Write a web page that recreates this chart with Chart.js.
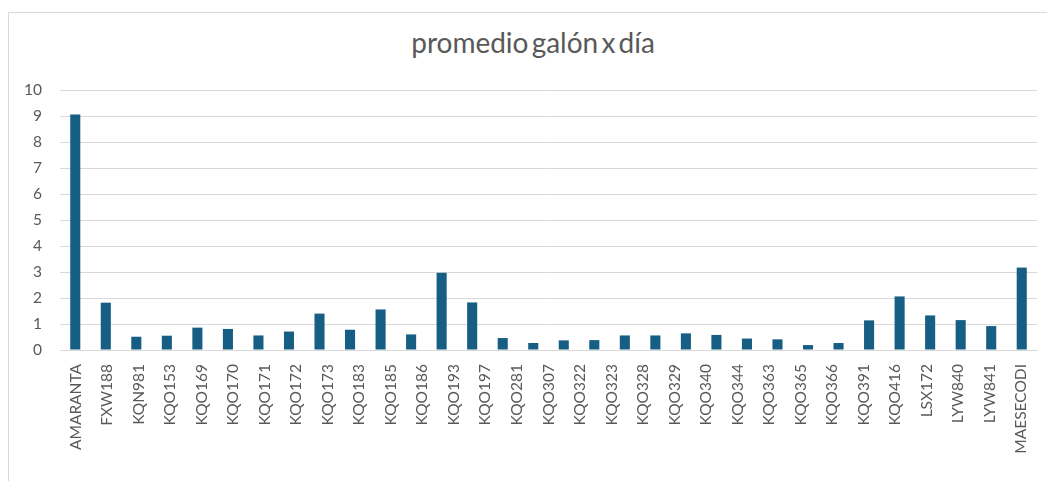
<!DOCTYPE html>
<html lang="es">
<head>
    <meta charset="UTF-8">
    <title>promedio galón x día</title>
    <script src="https://cdn.jsdelivr.net/npm/chart.js"></script>
    <style>
        body {
            margin: 0;
            background: #ffffff;
        }
        .wrap {
            position: relative;
            width: 1047px;
            height: 481px;
            overflow: hidden;
        }
        .frame {
            position: absolute;
            left: 8px;
            top: 12px;
            width: 1100px;
            height: 500px;
            border: 1px solid #d9d9d9;
        }
        #chartTitle {
            position: absolute;
            left: 533px;
            top: 28px;
            transform: translateX(-50%);
            font-family: Lato, sans-serif;
            font-size: 28px;
            line-height: 28px;
            color: #595959;
            white-space: nowrap;
            word-spacing: -4px;
        }
        #chart {
            position: absolute;
            left: 0;
            top: 0;
        }
    </style>
</head>
<body>
    <div class="wrap">
        <div class="frame"></div>
        <div id="chartTitle">promedio galón x día</div>
        <canvas id="chart" width="1047" height="481"></canvas>
    </div>

    <script>
        // etiquetas del eje (31) y barras (32)
        const categories = [
            'AMARANTA', 'FXW188', 'KQN981', 'KQO153', 'KQO169', 'KQO170', 'KQO171', 'KQO172',
            'KQO173', 'KQO183', 'KQO185', 'KQO186', 'KQO193', 'KQO197', 'KQO281', 'KQO307',
            'KQO322', 'KQO323', 'KQO328', 'KQO329', 'KQO340', 'KQO344', 'KQO363', 'KQO365',
            'KQO366', 'KQO391', 'KQO416', 'LSX172', 'LYW840', 'LYW841', 'MAESECODI'
        ];
        const values = [
            9.06, 1.82, 0.51, 0.55, 0.86, 0.81, 0.56, 0.71,
            1.40, 0.78, 1.56, 0.60, 2.97, 1.83, 0.46, 0.27,
            0.37, 0.38, 0.56, 0.56, 0.64, 0.58, 0.44, 0.41,
            0.19, 0.27, 1.14, 2.06, 1.33, 1.15, 0.92, 3.17
        ];
        const yTicks = [0, 1, 2, 3, 4, 5, 6, 7, 8, 9, 10];

        const barSlots = values.map((v, i) => String(i));
        const tickFont = { family: 'Lato', size: 15.5 };

        new Chart(document.getElementById('chart'), {
            type: 'bar',
            data: {
                labels: barSlots,
                datasets: [{
                    label: 'promedio galón x día',
                    data: values,
                    backgroundColor: '#165e83',
                    barPercentage: 0.33,
                    categoryPercentage: 1
                }]
            },
            options: {
                responsive: false,
                animation: false,
                layout: {
                    padding: { left: 20, right: 10, top: 90, bottom: 0 }
                },
                plugins: {
                    legend: { display: false },
                    tooltip: { enabled: false },
                    title: { display: false }
                },
                scales: {
                    x: {
                        display: false
                    },
                    x2: {
                        type: 'category',
                        labels: categories,
                        position: 'bottom',
                        offset: true,
                        grid: { display: false },
                        border: { display: true, color: '#d9d9d9', width: 1 },
                        ticks: {
                            autoSkip: false,
                            minRotation: 90,
                            maxRotation: 90,
                            padding: 6,
                            color: '#595959',
                            font: tickFont
                        },
                        afterFit: (scale) => { scale.height = 131; }
                    },
                    y: {
                        min: yTicks[0],
                        max: yTicks[yTicks.length - 1],
                        afterBuildTicks: (scale) => {
                            scale.ticks = yTicks.map(v => ({ value: v }));
                        },
                        afterFit: (scale) => { scale.width = 40; },
                        grid: { color: '#d9d9d9', drawTicks: false },
                        border: { display: false },
                        ticks: {
                            padding: 18,
                            color: '#595959',
                            font: tickFont
                        }
                    }
                }
            }
        });
    </script>
</body>
</html>
